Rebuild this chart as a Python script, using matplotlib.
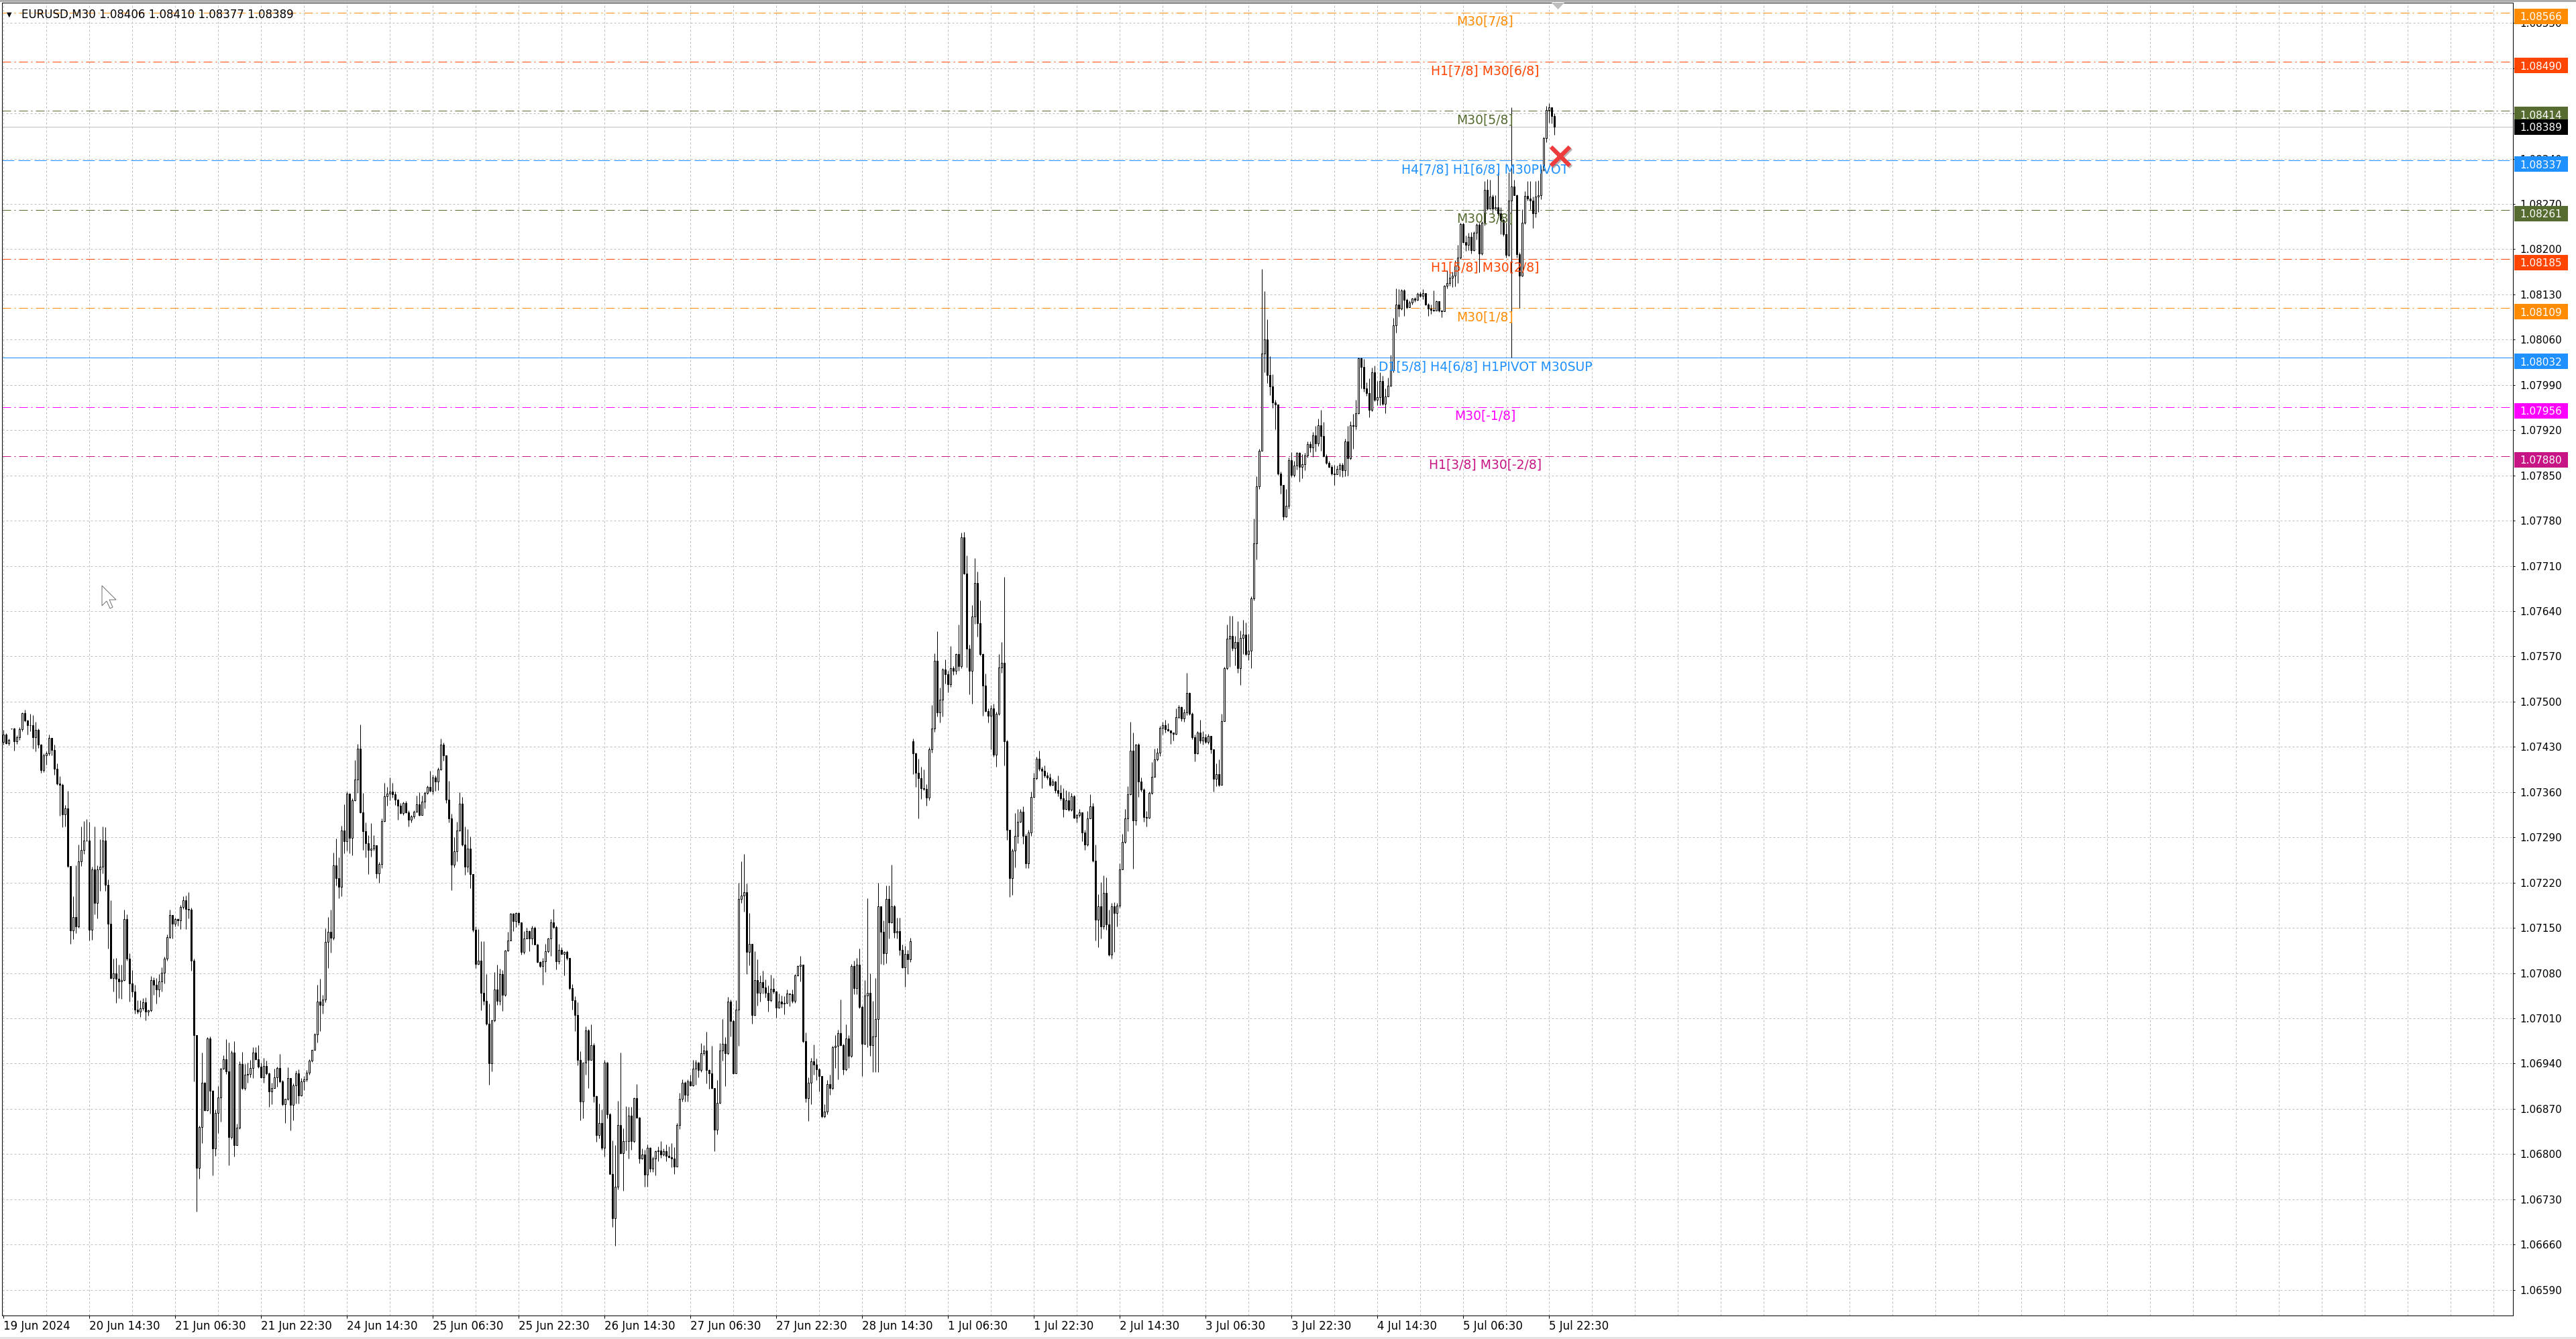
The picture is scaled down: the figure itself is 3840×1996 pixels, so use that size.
import numpy as np
import matplotlib.pyplot as plt
import matplotlib.transforms as mtransforms
import matplotlib.patheffects as pe
from matplotlib.patches import Rectangle, Polygon

# EURUSD M30 candles, in pips above 1.07000
base = 1.07
close_pips = [
    44.9, 43.6, 44.1, 45.8, 43.9, 44.5, 45.7, 48.2, 47.1, 46.4,
    46.4, 44.5, 45.6, 43.3, 39.4, 41.7, 42.0, 44.4, 42.5, 39.6,
    37.3, 37.1, 32.6, 33.5, 24.6, 14.6, 16.7, 15.2, 25.3, 27.0,
    28.5, 28.5, 14.7, 24.0, 18.8, 24.0, 24.5, 28.5, 21.7, 15.6,
    7.2, 8.0, 7.1, 6.7, 6.9, 16.4, 10.2, 6.4, 5.1, 2.4,
    2.0, 2.6, 3.5, 2.0, 2.2, 6.9, 6.2, 5.5, 6.7, 8.1,
    10.2, 13.6, 17.0, 15.6, 16.4, 16.2, 18.2, 19.3, 17.9, 17.8,
    9.9, -1.6, -22.1, -15.8, -9.0, -13.2, -2.1, -10.2, -19.1, -13.6,
    -11.2, -6.8, -5.3, -7.2, -17.4, -4.3, -18.6, -15.9, -6.1, -9.8,
    -7.7, -7.6, -6.7, -4.3, -5.3, -6.5, -8.1, -6.4, -7.5, -10.3,
    -9.8, -8.1, -6.7, -8.8, -12.3, -11.5, -8.2, -12.4, -9.4, -7.5,
    -10.9, -8.8, -8.4, -7.4, -5.5, -3.9, -1.5, 3.6, 3.1, 3.9,
    12.8, 14.4, 13.5, 24.7, 22.7, 21.3, 30.1, 28.4, 35.8, 28.9,
    34.7, 38.0, 42.7, 32.9, 30.0, 28.1, 27.1, 27.3, 27.8, 23.4,
    24.9, 31.5, 35.4, 35.8, 36.1, 35.7, 34.8, 33.9, 32.8, 34.3,
    32.9, 31.7, 32.2, 33.0, 34.1, 32.5, 34.5, 35.9, 36.8, 36.2,
    38.3, 37.6, 39.5, 43.3, 41.7, 34.8, 31.9, 24.8, 26.8, 30.1,
    34.2, 27.9, 24.5, 27.3, 23.3, 14.7, 9.4, 9.9, 4.9, 3.7,
    0.2, -6.0, 0.7, 5.5, 3.7, 7.8, 4.6, 11.5, 13.0, 17.2,
    16.0, 17.3, 15.8, 11.3, 13.3, 14.5, 13.3, 15.0, 12.4, 9.7,
    9.1, 9.8, 11.4, 13.3, 15.8, 15.1, 9.8, 11.6, 11.0, 11.3,
    10.3, 5.7, 3.8, 1.5, -5.4, -11.9, -5.9, -0.9, -5.4, -3.2,
    -11.0, -17.1, -15.2, -19.0, -5.8, -13.8, -23.1, -29.9, -25.1, -15.5,
    -19.9, -18.0, -18.0, -14.1, -18.0, -11.4, -14.4, -20.7, -20.1, -23.2,
    -19.0, -22.2, -20.7, -19.6, -19.4, -20.1, -19.6, -20.3, -20.5, -20.7,
    -21.9, -15.5, -11.5, -9.0, -10.8, -8.8, -9.4, -6.8, -5.8, -7.0,
    -4.4, -4.0, -7.0, -7.5, -9.8, -16.2, -12.1, -4.0, -2.9, -4.4,
    3.6, 0.6, -7.5, 2.4, 19.5, 20.0, 20.5, 11.3, 12.5, 1.5,
    6.9, 4.9, 6.6, 5.8, 4.9, 3.8, 5.6, 5.1, 2.7, 3.6,
    3.3, 3.4, 4.8, 4.7, 3.7, 7.6, 9.1, 9.3, -2.5, -11.3,
    -9.0, -5.6, -6.2, -6.9, -7.9, -14.2, -13.4, -9.2, -9.8, -3.5,
    -3.3, -1.3, -3.2, -6.9, -2.1, -4.8, 9.1, 5.7, 9.3, 2.8,
    -2.9, 4.5, 4.9, -3.2, -1.8, 0.9, 18.3, 14.4, 11.1, 19.5,
    15.8, 18.3, 14.3, 14.5, 11.6, 8.9, 11.0, 10.1, 12.9, 42.0,
    39.0, 38.2, 36.6, 36.5, 35.1, 42.6, 45.8, 56.3, 48.3, 50.3,
    55.0, 54.2, 52.7, 55.2, 54.8, 57.4, 55.5, 75.4, 69.8, 58.2,
    54.8, 63.2, 68.4, 62.1, 57.4, 52.5, 48.5, 47.8, 49.0, 41.8,
    48.1, 55.3, 56.0, 43.9, 30.2, 22.7, 26.9, 29.2, 31.4, 33.0,
    29.2, 25.0, 29.8, 35.3, 38.2, 41.2, 39.6, 39.3, 38.6, 38.3,
    37.1, 37.6, 36.3, 35.9, 35.0, 33.4, 34.7, 33.3, 35.4, 32.0,
    32.4, 32.9, 29.7, 27.9, 31.9, 33.8, 25.4, 16.3, 18.3, 15.2,
    20.4, 15.5, 10.9, 18.3, 17.3, 18.4, 24.0, 28.3, 31.9, 35.7,
    42.4, 31.6, 43.3, 37.6, 36.4, 32.1, 32.0, 35.9, 38.4, 41.1,
    42.1, 45.9, 46.4, 45.7, 45.5, 45.2, 45.0, 47.6, 49.2, 47.4,
    48.3, 51.3, 48.1, 44.5, 42.0, 45.2, 44.0, 44.5, 43.8, 44.7,
    42.6, 38.1, 38.8, 37.1, 47.0, 55.2, 59.7, 60.2, 58.3, 59.2,
    55.2, 59.9, 60.4, 57.4, 57.9, 66.0, 74.5, 83.3, 88.8, 103.9,
    106.0, 100.5, 98.8, 96.3, 96.0, 85.3, 83.5, 78.6, 80.3, 87.4,
    85.1, 86.5, 88.5, 86.3, 86.7, 88.1, 89.8, 89.3, 91.2, 90.0,
    92.7, 91.1, 88.0, 86.9, 86.3, 85.3, 85.2, 86.0, 86.6, 85.8,
    90.3, 87.7, 92.7, 92.6, 94.6, 103.1, 101.8, 98.5, 97.7, 95.1,
    101.0, 96.7, 97.1, 99.6, 96.1, 97.2, 98.9, 101.3, 108.2, 111.4,
    110.8, 113.6, 112.2, 111.0, 111.7, 112.4, 112.2, 113.1, 112.8, 113.2,
    111.4, 110.8, 110.6, 110.5, 112.0, 110.5, 110.4, 114.3, 114.8, 115.6,
    115.9, 117.5, 118.7, 123.9, 121.1, 120.7, 121.9, 119.8, 122.5, 123.8,
    119.3, 124.1, 129.2, 126.3, 128.1, 126.3, 126.5, 125.5, 124.5, 122.3,
    119.1, 127.5, 129.7, 128.4, 119.2, 115.9, 124.1, 128.2, 127.8, 127.5,
    125.5, 128.1, 128.3, 132.3, 137.2, 141.5, 141.9, 140.6, 138.9,
]
high_pips = [
    45.6, 45.1, 44.3, 45.8, 45.9, 44.8, 46.0, 48.3, 48.7, 47.2,
    48.1, 47.9, 46.9, 45.8, 43.4, 42.0, 42.3, 44.9, 44.4, 43.3,
    40.4, 38.5, 37.3, 34.0, 36.2, 24.5, 19.9, 24.7, 27.9, 30.7,
    31.5, 31.8, 31.4, 24.5, 30.7, 24.7, 28.7, 30.7, 30.6, 22.5,
    19.3, 10.2, 10.3, 9.3, 9.3, 17.8, 17.1, 11.1, 8.5, 6.2,
    3.8, 3.8, 4.1, 4.2, 2.4, 7.5, 7.3, 7.2, 7.8, 8.9,
    10.6, 14.0, 17.8, 16.9, 16.6, 16.5, 18.5, 19.9, 20.0, 20.5,
    18.1, 10.2, -2.7, -15.6, -4.3, -8.9, -1.9, -1.8, -10.1, -13.1,
    -9.5, -6.7, -4.7, -2.2, -2.7, -4.0, -2.5, -15.3, -5.6, -4.2,
    -6.1, -5.8, -5.4, -3.5, -3.5, -3.2, -5.8, -5.1, -5.5, -7.4,
    -9.0, -6.8, -6.5, -4.5, -8.5, -11.5, -6.6, -8.3, -9.1, -7.1,
    -6.9, -8.2, -7.9, -7.0, -5.3, -3.9, -1.3, 6.2, 7.1, 4.6,
    14.9, 16.7, 17.8, 26.6, 28.8, 25.9, 30.8, 34.1, 36.1, 35.4,
    35.0, 41.0, 43.4, 46.5, 35.9, 31.3, 29.3, 31.2, 29.3, 27.7,
    25.2, 31.9, 37.4, 36.8, 38.3, 37.4, 36.1, 34.9, 34.3, 34.5,
    34.6, 33.2, 32.4, 33.2, 35.5, 36.0, 35.5, 36.1, 37.0, 39.3,
    38.7, 38.6, 39.8, 44.3, 43.7, 41.7, 37.7, 32.7, 29.0, 31.4,
    36.0, 35.2, 30.7, 30.3, 29.1, 23.3, 15.2, 14.8, 12.9, 12.9,
    7.9, 3.3, 0.8, 8.2, 9.3, 8.7, 8.5, 11.6, 14.4, 17.3,
    17.3, 17.4, 17.4, 15.7, 14.5, 15.0, 14.6, 15.3, 15.2, 12.5,
    9.8, 10.3, 12.5, 13.5, 16.4, 17.9, 15.3, 12.5, 12.0, 11.4,
    11.5, 10.3, 6.3, 4.4, 3.5, -4.1, -5.8, -0.2, -0.7, 0.1,
    -2.8, -10.9, -12.2, -13.1, -5.4, -5.7, -13.6, -17.9, -18.6, -11.8,
    -4.3, -16.0, -12.6, -12.7, -12.7, -11.2, -9.2, -14.3, -19.1, -19.3,
    -18.5, -18.9, -20.4, -19.4, -18.8, -18.0, -19.1, -18.5, -18.8, -18.3,
    -18.9, -15.2, -10.5, -8.4, -8.8, -8.4, -7.7, -5.4, -5.4, -5.7,
    -2.8, -3.2, -1.1, -6.9, -3.3, -9.8, -8.5, -2.8, 0.9, -1.9,
    4.3, 3.9, 0.8, 3.8, 22.0, 25.3, 26.4, 21.9, 17.3, 12.0,
    11.4, 10.1, 7.6, 8.4, 7.0, 6.1, 7.7, 7.2, 5.3, 4.8,
    4.5, 4.4, 5.5, 4.8, 5.5, 7.8, 9.2, 10.7, 9.3, -1.2,
    -8.1, -5.1, -3.1, -5.2, -6.7, -7.9, -12.3, -8.6, -7.7, -3.3,
    -1.6, -0.8, 3.9, -2.9, 0.1, -1.6, 9.4, 9.9, 10.3, 11.8,
    3.0, 6.9, 19.6, 8.0, 3.7, 7.2, 22.0, 18.1, 16.2, 21.5,
    21.5, 24.8, 18.5, 16.6, 16.6, 12.4, 12.2, 11.6, 13.5, 44.3,
    42.1, 41.2, 39.9, 39.5, 37.2, 42.9, 49.5, 57.5, 60.9, 52.2,
    55.2, 56.5, 54.8, 58.6, 55.5, 57.5, 61.9, 76.1, 76.2, 72.6,
    58.8, 64.9, 72.2, 70.1, 65.7, 57.5, 54.4, 49.0, 49.5, 49.7,
    48.4, 57.4, 59.2, 69.3, 44.1, 30.2, 27.3, 32.8, 33.4, 33.4,
    33.8, 29.5, 30.2, 36.1, 39.0, 41.5, 42.4, 39.9, 40.1, 39.1,
    38.9, 38.1, 37.7, 38.6, 37.1, 36.6, 36.3, 36.1, 35.9, 35.6,
    32.7, 33.4, 32.9, 30.2, 33.1, 35.7, 34.3, 27.9, 20.2, 22.1,
    23.1, 22.8, 17.8, 18.8, 19.0, 18.8, 25.0, 29.5, 33.4, 36.9,
    46.9, 45.2, 43.4, 43.6, 38.3, 36.6, 33.1, 36.1, 40.6, 42.7,
    42.8, 46.3, 46.9, 47.2, 46.7, 45.6, 45.2, 49.0, 49.5, 49.3,
    48.8, 54.5, 51.4, 48.3, 44.9, 45.4, 47.2, 45.4, 45.0, 45.0,
    44.7, 42.4, 40.4, 41.1, 48.1, 55.4, 61.9, 63.3, 63.3, 60.2,
    62.4, 61.0, 62.7, 62.2, 60.5, 66.3, 78.3, 84.9, 89.1, 116.9,
    113.5, 109.2, 103.4, 100.6, 96.7, 96.0, 85.6, 83.1, 82.9, 87.8,
    88.6, 87.2, 88.6, 88.6, 88.3, 88.5, 90.3, 90.3, 91.7, 92.6,
    93.8, 95.1, 93.3, 88.3, 87.3, 86.6, 86.6, 86.5, 86.9, 86.9,
    90.7, 92.6, 93.4, 94.5, 96.7, 103.2, 103.2, 103.0, 99.4, 100.0,
    101.7, 102.0, 99.6, 100.9, 100.4, 98.5, 100.1, 103.6, 109.4, 113.9,
    113.8, 113.8, 113.8, 112.4, 112.1, 112.5, 112.6, 113.3, 113.4, 113.8,
    113.2, 111.6, 111.4, 113.6, 112.1, 112.0, 110.6, 114.4, 116.7, 116.3,
    116.5, 118.3, 120.7, 124.1, 124.1, 122.1, 122.5, 122.6, 122.7, 124.0,
    124.1, 124.3, 130.5, 130.8, 130.7, 128.5, 128.3, 131.9, 126.5, 124.7,
    124.1, 131.9, 142.0, 130.7, 128.5, 119.5, 126.2, 129.0, 130.5, 130.5,
    128.1, 130.5, 130.6, 132.9, 137.4, 142.2, 142.6, 142.0, 141.0,
]
low_pips = [
    43.3, 43.4, 43.2, 45.7, 42.4, 43.4, 44.1, 45.4, 46.9, 44.9,
    45.4, 42.7, 42.3, 42.8, 39.0, 39.1, 40.2, 41.7, 41.7, 38.7,
    37.1, 32.3, 30.6, 30.7, 24.4, 12.5, 13.2, 14.2, 15.0, 24.6,
    26.4, 28.4, 13.0, 13.1, 17.1, 16.5, 20.7, 23.4, 20.7, 11.8,
    7.1, 5.1, 3.4, 4.1, 4.0, 6.8, 9.9, 3.6, 4.3, 1.7,
    1.7, 1.2, 2.2, 0.7, 1.4, 2.0, 4.6, 3.3, 4.3, 5.1,
    6.4, 9.9, 13.4, 13.4, 15.2, 15.3, 14.8, 17.9, 14.8, 16.5,
    8.4, -8.8, -28.9, -23.8, -18.3, -13.3, -13.3, -13.7, -23.3, -20.3,
    -16.8, -15.0, -6.9, -7.6, -21.7, -17.7, -20.4, -18.6, -16.1, -10.0,
    -10.1, -9.0, -8.1, -8.2, -5.4, -6.7, -8.2, -9.0, -7.7, -12.7,
    -12.3, -9.8, -9.6, -9.0, -12.5, -15.2, -11.7, -16.3, -14.8, -12.2,
    -12.2, -11.0, -10.1, -8.8, -7.7, -5.7, -3.9, -2.7, -1.0, 1.7,
    3.5, 8.8, 11.2, 13.1, 21.5, 19.6, 19.9, 26.5, 26.9, 26.5,
    26.2, 34.6, 35.9, 32.8, 27.1, 25.9, 23.3, 26.0, 26.9, 22.7,
    22.0, 24.3, 31.4, 33.9, 34.7, 35.1, 34.0, 31.7, 32.7, 32.4,
    32.8, 30.7, 31.3, 31.9, 32.9, 32.3, 32.4, 33.5, 35.7, 36.1,
    35.7, 36.2, 36.3, 39.4, 40.9, 34.3, 31.3, 20.8, 24.4, 25.3,
    30.0, 27.7, 23.2, 23.6, 21.1, 14.4, 8.8, 9.3, 2.2, 3.1,
    0.0, -9.3, -7.2, 0.5, 3.1, 3.1, 2.1, 4.4, 11.4, 13.0,
    14.5, 15.1, 15.4, 10.9, 11.0, 13.5, 11.4, 12.4, 12.4, 9.6,
    8.9, 6.2, 8.2, 11.2, 10.7, 14.9, 8.6, 9.4, 10.9, 7.6,
    10.0, 5.5, 2.3, -1.0, -6.3, -14.8, -14.5, -7.7, -9.8, -5.4,
    -12.0, -18.1, -17.6, -19.3, -20.4, -14.5, -23.1, -31.3, -34.2, -25.5,
    -20.0, -25.7, -19.4, -20.7, -19.3, -18.2, -14.5, -21.4, -20.8, -25.1,
    -25.1, -22.8, -22.8, -23.3, -21.1, -20.6, -20.3, -21.1, -20.6, -22.0,
    -23.1, -21.8, -16.1, -11.9, -11.9, -11.9, -9.5, -9.5, -9.3, -8.1,
    -7.3, -4.7, -9.1, -9.9, -9.9, -19.6, -17.0, -12.2, -5.5, -9.5,
    -4.6, -1.8, -7.6, -7.4, -3.3, 18.9, 17.5, 7.8, 9.2, 0.2,
    1.4, 3.0, 3.6, 4.8, 4.2, 2.0, 3.6, 4.8, 1.1, 2.6,
    2.7, 1.6, 3.3, 2.9, 3.4, 3.4, 7.5, 6.7, -2.7, -12.0,
    -14.9, -12.3, -7.7, -8.6, -10.3, -14.4, -14.4, -13.8, -10.8, -10.0,
    -6.7, -8.4, -3.3, -7.7, -7.1, -6.7, -5.0, 4.7, 4.7, 2.6,
    -7.9, -3.1, -3.5, -4.8, -7.3, -7.3, -7.3, 9.4, 9.3, 9.5,
    13.3, 15.7, 13.5, 13.3, 10.8, 8.8, 5.9, 7.8, 9.7, 38.8,
    36.8, 31.9, 34.9, 36.3, 33.9, 34.7, 42.1, 45.3, 47.7, 46.8,
    47.7, 52.8, 51.4, 52.3, 54.1, 54.2, 54.8, 55.2, 69.7, 55.3,
    51.1, 49.7, 62.0, 60.1, 57.1, 47.8, 48.4, 46.8, 42.6, 41.5,
    39.9, 47.9, 54.5, 40.1, 28.6, 19.8, 20.1, 24.4, 28.1, 31.3,
    28.0, 24.2, 24.2, 29.2, 35.1, 38.0, 39.3, 36.6, 38.3, 38.0,
    36.9, 37.0, 35.9, 35.4, 34.7, 32.1, 33.3, 33.1, 33.1, 31.9,
    31.3, 32.1, 28.4, 27.0, 27.7, 31.9, 25.2, 13.0, 12.0, 13.4,
    14.8, 14.7, 10.7, 10.2, 11.3, 15.2, 18.1, 24.1, 28.1, 30.0,
    35.6, 24.1, 30.9, 35.2, 36.1, 31.4, 30.7, 31.9, 35.7, 38.4,
    40.9, 41.6, 44.9, 45.2, 45.4, 43.4, 44.0, 44.9, 47.4, 47.0,
    46.9, 47.9, 47.9, 44.2, 40.7, 41.9, 43.6, 43.3, 43.6, 43.4,
    42.0, 36.1, 36.9, 36.9, 37.1, 47.0, 55.0, 55.4, 57.9, 55.6,
    54.5, 52.6, 57.4, 57.2, 56.4, 55.2, 65.7, 72.0, 82.9, 88.8,
    101.0, 99.3, 97.4, 95.5, 92.1, 85.1, 82.2, 78.1, 78.5, 79.9,
    84.8, 84.8, 85.9, 84.0, 84.5, 85.8, 87.8, 88.6, 87.9, 88.7,
    89.5, 88.8, 87.9, 86.7, 86.2, 85.1, 83.5, 85.3, 84.9, 84.8,
    84.9, 85.0, 87.5, 89.1, 92.1, 94.5, 98.5, 97.9, 97.3, 94.0,
    94.9, 96.5, 95.9, 95.9, 95.9, 94.6, 97.2, 98.8, 101.0, 107.1,
    109.6, 110.6, 109.7, 110.8, 111.0, 111.4, 111.9, 112.1, 112.6, 112.3,
    111.3, 109.7, 110.0, 110.4, 110.5, 110.3, 109.5, 110.4, 113.9, 114.3,
    114.1, 114.2, 114.8, 118.5, 121.0, 119.7, 119.8, 119.3, 119.7, 121.5,
    116.4, 119.1, 123.7, 126.1, 126.5, 125.5, 126.2, 125.2, 122.3, 122.0,
    118.7, 118.9, 103.2, 128.3, 118.7, 110.9, 115.8, 123.9, 127.5, 126.2,
    123.3, 124.9, 125.8, 127.7, 132.1, 136.6, 139.6, 139.5, 137.7,
]
# bars whose open is not the previous close (first bar, gaps, Monday open)
open_pips = {0: 43.8, 3: 45.8, 339: 43.9}

time_labels = ["19 Jun 2024", "20 Jun 14:30", "21 Jun 06:30", "21 Jun 22:30",
               "24 Jun 14:30", "25 Jun 06:30", "25 Jun 22:30", "26 Jun 14:30",
               "27 Jun 06:30", "27 Jun 22:30", "28 Jun 14:30", "1 Jul 06:30",
               "1 Jul 22:30", "2 Jul 14:30", "3 Jul 06:30", "3 Jul 22:30",
               "4 Jul 14:30", "5 Jul 06:30", "5 Jul 22:30"]
time_step = 32

price_ticks = [1.06590, 1.06660, 1.06730, 1.06800, 1.06870, 1.06940, 1.07010,
               1.07080, 1.07150, 1.07220, 1.07290, 1.07360, 1.07430, 1.07500,
               1.07570, 1.07640, 1.07710, 1.07780, 1.07850, 1.07920, 1.07990,
               1.08060, 1.08130, 1.08200, 1.08270, 1.08340, 1.08410, 1.08480,
               1.08550]

level_prices = [1.08566, 1.08490, 1.08414, 1.08337, 1.08261,
                1.08185, 1.08109, 1.08032, 1.07956, 1.07880]
level_names = ["M30[7/8]", "H1[7/8] M30[6/8]", "M30[5/8]",
               "H4[7/8] H1[6/8] M30PIVOT", "M30[3/8]", "H1[5/8] M30[2/8]",
               "M30[1/8]", "D1[5/8] H4[6/8] H1PIVOT M30SUP", "M30[-1/8]",
               "H1[3/8] M30[-2/8]"]
level_colors = ["#FF8C00", "#FF4500", "#556B2F", "#1E90FF", "#556B2F",
                "#FF4500", "#FF8C00", "#1E90FF", "#FF00FF", "#C71585"]
level_styles = ["dashdot", "dashdot", "dashdot", "dash", "dashdot",
                "dashdot", "dashdot", "solid", "dashdot", "dashdot"]

bid_price = 1.08389
header = "EURUSD,M30 1.08406 1.08410 1.08377 1.08389"
signal_bar, signal_price = 580.25, 1.08344

W, H = 3840, 1996
PX = 0.72  # one pixel in points
plt.rcParams['font.family'] = ['DejaVu Sans']

fig = plt.figure(figsize=(W / 100, H / 100), dpi=100)
fig.patch.set_facecolor('white')
L, R, T, B = 3, 3746, 4, 1961
ax = fig.add_axes([L / W, 1 - B / H, (R - L) / W, (B - T) / H])
ymin, ymax = 1.065502, 1.085814
ax.set_xlim(-0.5, (R - 5) / 4)
ax.set_ylim(ymin, ymax)
px_per_price = (B - T) / (ymax - ymin)

n = len(close_pips)
assert len(high_pips) == n and len(low_pips) == n, (n, len(high_pips), len(low_pips))
x = np.arange(n)
close = base + np.array(close_pips) / 1e4
high = base + np.array(high_pips) / 1e4
low = base + np.array(low_pips) / 1e4
opn = np.r_[close[0], close[:-1]]
for i, p in open_pips.items():
    opn[i] = base + p / 1e4

# grid
grid_kw = dict(color='#C0C0C0', lw=PX, ls=(0, (3, 3)), zorder=0.5)
for xv in range(0, int((R - 5) / 4) + 1, 16):
    ax.axvline(xv, **grid_kw)
for yv in price_ticks:
    ax.axhline(yv, **grid_kw)

# level lines
styles = {"dashdot": (0, (13, 5, 2, 5)), "dash": (0, (18, 6)), "solid": '-'}
for p, c, s in zip(level_prices, level_colors, level_styles):
    ax.axhline(p, color=c, lw=PX, ls=styles[s], zorder=1)
ax.axhline(bid_price, color='#C0C0C0', lw=PX, zorder=1)

# candles
ax.vlines(x, low, high, color='black', lw=PX, zorder=3)
up = close >= opn
body_lo = np.minimum(opn, close)
body_h = np.maximum(np.abs(close - opn), 1e-7)
ax.bar(x, body_h, 0.5, bottom=body_lo, color=np.where(up, 'white', 'black'),
       edgecolor='black', linewidth=PX, zorder=4)

# level labels
for p, name, c in zip(level_prices, level_names, level_colors):
    ax.annotate(name, xy=(0.5907, p), xycoords=('axes fraction', 'data'),
                xytext=(0, -4 * PX), textcoords='offset points',
                ha='center', va='top', color=c, fontsize=13.5, zorder=6)

# signal cross
ax.plot([signal_bar], [signal_price], marker='x', ms=20, mew=4.5,
        color='#EE3B3B', zorder=8, clip_on=False,
        path_effects=[pe.SimpleLineShadow(offset=(1.5, -1.5), shadow_color='#888888', alpha=0.6),
                      pe.Normal()])

# axes and ticks
for s in ax.spines.values():
    s.set_linewidth(PX)
    s.set_color('black')
ax.yaxis.tick_right()
ax.set_yticks(price_ticks)
ax.set_yticklabels([f"{p:.5f}" for p in price_ticks])
ax.tick_params(axis='y', length=3 * PX, width=PX, pad=7 * PX, labelsize=11)
ax.set_xticks(np.arange(len(time_labels)) * time_step)
ax.set_xticklabels(time_labels, ha='left')
ax.tick_params(axis='x', length=4 * PX, width=PX, pad=3 * PX, labelsize=12)

# price tags on the right scale
blend = mtransforms.blended_transform_factory(ax.transAxes, ax.transData)
tag_x0 = (3748 - L) / (R - L)
tag_w = 80 / (R - L)
tag_h = 23 / px_per_price
tags = list(zip(level_prices, level_colors, [5.5] * len(level_prices)))
tags.append((bid_price, 'black', 0.0))
for p, c, off in tags:
    yc = p - off / px_per_price
    ax.add_patch(Rectangle((tag_x0, yc - tag_h / 2), tag_w, tag_h, transform=blend,
                           facecolor=c, edgecolor='none', clip_on=False, zorder=10))
    ax.text(tag_x0 + tag_w / 2, yc, f"{p:.5f}", transform=blend, ha='center',
            va='center_baseline', color='white', fontsize=11, zorder=11, clip_on=False)


def fpx(px, py):
    return (px / W, 1 - py / H)


# header
fig.text(*fpx(10, 22), "\u25bc", fontsize=7, va='center', ha='left', color='black')
fig.text(*fpx(32, 22), header, fontsize=12, va='center', ha='left', color='black', zorder=12)

# window border strips
fig.patches.append(Rectangle(fpx(0, 3), 1, 3 / H, transform=fig.transFigure,
                             facecolor='#ABABAB', edgecolor='none'))
fig.patches.append(Rectangle(fpx(0, 1996), 1, 3 / H, transform=fig.transFigure,
                             facecolor='#E3E3E3', edgecolor='none'))

# chart shift marker
fig.patches.append(Polygon([fpx(2313, 4), fpx(2332, 4), fpx(2322.5, 14)],
                           closed=True, transform=fig.transFigure,
                           facecolor='#BDBDBD', edgecolor='none'))

# mouse cursor
tip = (152, 873)
shape = [(0, 0), (0, 30), (7, 23), (12, 34), (16, 32), (11, 21), (21, 21)]
fig.patches.append(Polygon([fpx(tip[0] + dx, tip[1] + dy) for dx, dy in shape],
                           closed=True, transform=fig.transFigure,
                           facecolor='white', edgecolor='#707070', lw=PX))

fig.savefig('out.png', dpi=100)
